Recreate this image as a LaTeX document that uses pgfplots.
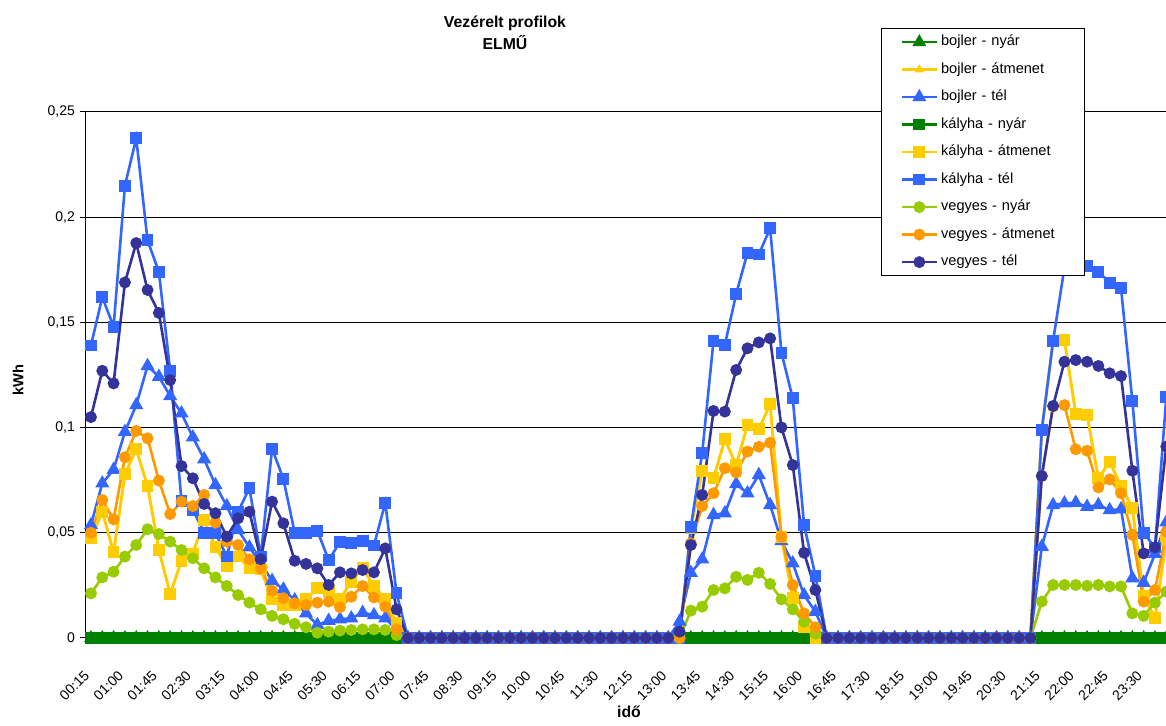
\documentclass[border=0pt]{standalone}
\usepackage{pgfplots}
\pgfplotsset{compat=1.18}
\usepackage{pgfplotstable}
\usepackage{fontspec}
\setmainfont{Liberation Sans}
\definecolor{cgreen}{HTML}{008000}
\definecolor{cyellow}{HTML}{FFCC00}
\definecolor{cblue}{HTML}{3366FF}
\definecolor{clime}{HTML}{99CC00}
\definecolor{corange}{HTML}{FF9900}
\definecolor{cnavy}{HTML}{333399}

% x: 0 = 00:15, step 15 min; n = nyar (zero); bt = bojler tel; ka = atmenet (kalyha/bojler); kt = kalyha tel; vn, va, vt = vegyes
\pgfplotstableread{
x n bt ka kt vn va vt
0 0 0.0537 0.0474 0.139 0.0212 0.050 0.105
1 0 0.0735 0.060 0.162 0.0288 0.0656 0.127
2 0 0.080 0.0407 0.148 0.0315 0.0564 0.121
3 0 0.098 0.0778 0.215 0.0387 0.0859 0.169
4 0 0.1107 0.0897 0.2375 0.0442 0.0984 0.1877
5 0 0.1293 0.0722 0.189 0.0517 0.0949 0.1654
6 0 0.1242 0.0418 0.174 0.0494 0.0748 0.1545
7 0 0.115 0.0209 0.127 0.0458 0.0589 0.1226
8 0 0.1068 0.0367 0.065 0.0418 0.0648 0.0817
9 0 0.0954 0.0402 0.061 0.0379 0.0627 0.0759
10 0 0.085 0.056 0.050 0.0331 0.068 0.0637
11 0 0.0727 0.0431 0.050 0.0288 0.0548 0.0593
12 0 0.0627 0.0342 0.0387 0.0247 0.0458 0.0482
13 0 0.0513 0.0387 0.060 0.0204 0.0442 0.0569
14 0 0.0431 0.0331 0.0713 0.0168 0.0374 0.060
15 0 0.0355 0.0326 0.0387 0.0136 0.0331 0.0375
16 0 0.0272 0.0184 0.090 0.0105 0.0225 0.0648
17 0 0.0231 0.0157 0.0756 0.0089 0.0189 0.0545
18 0 0.018 0.0157 0.050 0.0067 0.0165 0.0367
19 0 0.0117 0.0184 0.050 0.0051 0.0157 0.0352
20 0 0.0062 0.0236 0.051 0.0025 0.0168 0.0331
21 0 0.0082 0.0223 0.037 0.0030 0.0173 0.0252
22 0 0.0089 0.0184 0.0456 0.0035 0.0146 0.0312
23 0 0.0094 0.0268 0.045 0.0038 0.0196 0.0307
24 0 0.012 0.0331 0.046 0.0041 0.0247 0.0323
25 0 0.0109 0.0247 0.044 0.0041 0.0193 0.0312
26 0 0.0094 0.0184 0.0643 0.0038 0.0149 0.0426
27 0 0.0038 0.007 0.0212 0.0014 0.0041 0.0136
28 0 0 0 0 0 0 0
29 0 0 0 0 0 0 0
30 0 0 0 0 0 0 0
31 0 0 0 0 0 0 0
32 0 0 0 0 0 0 0
33 0 0 0 0 0 0 0
34 0 0 0 0 0 0 0
35 0 0 0 0 0 0 0
36 0 0 0 0 0 0 0
37 0 0 0 0 0 0 0
38 0 0 0 0 0 0 0
39 0 0 0 0 0 0 0
40 0 0 0 0 0 0 0
41 0 0 0 0 0 0 0
42 0 0 0 0 0 0 0
43 0 0 0 0 0 0 0
44 0 0 0 0 0 0 0
45 0 0 0 0 0 0 0
46 0 0 0 0 0 0 0
47 0 0 0 0 0 0 0
48 0 0 0 0 0 0 0
49 0 0 0 0 0 0 0
50 0 0 0 0 0 0 0
51 0 0 0 0 0 0 0
52 0 0.0078 0 0 0 0 0.003
53 0 0.031 0.052 0.0529 0.013 0.045 0.0442
54 0 0.0374 0.0795 0.088 0.0149 0.0627 0.068
55 0 0.0585 0.0759 0.1413 0.0228 0.0688 0.1079
56 0 0.0593 0.0944 0.1393 0.0236 0.0807 0.1076
57 0 0.0732 0.0822 0.1635 0.0291 0.0786 0.1274
58 0 0.0688 0.1012 0.1831 0.0276 0.0886 0.1377
59 0 0.0775 0.0992 0.1823 0.031 0.0909 0.1405
60 0 0.0632 0.1112 0.1947 0.0257 0.0928 0.1424
61 0 0.0461 0.0481 0.1356 0.0184 0.0481 0.1001
62 0 0.0355 0.0189 0.1139 0.0136 0.0252 0.0822
63 0 0.0204 0.0054 0.0537 0.0077 0.0117 0.0405
64 0 0.0125 0 0.0296 0.002 0.0051 0.0228
65 0 0 0 0 0 0 0
66 0 0 0 0 0 0 0
67 0 0 0 0 0 0 0
68 0 0 0 0 0 0 0
69 0 0 0 0 0 0 0
70 0 0 0 0 0 0 0
71 0 0 0 0 0 0 0
72 0 0 0 0 0 0 0
73 0 0 0 0 0 0 0
74 0 0 0 0 0 0 0
75 0 0 0 0 0 0 0
76 0 0 0 0 0 0 0
77 0 0 0 0 0 0 0
78 0 0 0 0 0 0 0
79 0 0 0 0 0 0 0
80 0 0 0 0 0 0 0
81 0 0 0 0 0 0 0
82 0 0 0 0 0 0 0
83 0 0 0 0 0 0 0
84 0 0.0434 0.0989 0.0989 0.0173 0.077 0.077
85 0 0.0632 0.141 0.1413 0.0252 0.110 0.1103
86 0 0.064 0.1416 0.176 0.0252 0.1107 0.1313
87 0 0.0643 0.1065 0.1768 0.0252 0.0897 0.1321
88 0 0.0624 0.106 0.1768 0.0248 0.089 0.1313
89 0 0.0632 0.0759 0.1741 0.0252 0.0716 0.1293
90 0 0.0608 0.0838 0.1689 0.0245 0.0754 0.1258
91 0 0.0612 0.0722 0.1662 0.0245 0.0688 0.1245
92 0 0.0284 0.0616 0.1128 0.0117 0.049 0.0795
93 0 0.0263 0.020 0.050 0.0105 0.0173 0.0402
94 0 0.040 0.0094 0.043 0.0168 0.0228 0.0431
95 0 0.055 0.0466 0.1145 0.022 0.0505 0.091
}\data

\begin{document}
\begin{tikzpicture}
\begin{axis}[
  at={(0,0)}, anchor=south west,
  scale only axis, width=540.5pt, height=263pt,
  xmin=-0.5, xmax=95, ymin=0, ymax=0.25,
  clip=false,
  axis x line*=bottom, axis y line*=left,
  axis line style={black, line width=0.6pt},
  ytick={0,0.05,0.1,0.15,0.2,0.25},
  yticklabels={0,{0,05},{0,1},{0,15},{0,2},{0,25}},
  ymajorgrids, grid style={black, line width=0.5pt},
  tick align=outside, major tick length=2.5pt,
  ytick style={black, line width=0.5pt},
  xtick style={draw=none},
  xtick={0,3,...,93},
  xticklabels={00:15,01:00,01:45,02:30,03:15,04:00,04:45,05:30,06:15,07:00,07:45,08:30,09:15,10:00,10:45,11:30,12:15,13:00,13:45,14:30,15:15,16:00,16:45,17:30,18:15,19:00,19:45,20:30,21:15,22:00,22:45,23:30},
  xticklabel style={xshift=-2pt, font=\fontsize{7}{8.4}\selectfont, rotate=45, anchor=east, inner sep=0pt},
  xticklabel shift=15pt,
  yticklabel style={font=\fontsize{7}{8.4}\selectfont, anchor=east, inner sep=0pt},
  yticklabel shift=2.5pt,
  every axis plot/.append style={line width=1.3pt},
  legend image code/.code={\draw[mark repeat=2,mark phase=2,#1] plot coordinates {(0pt,0pt) (8.75pt,0pt) (17.5pt,0pt)};},
  legend cell align=left,
  legend style={at={(axis description cs:0.7361,1.1597)}, anchor=north west,
    draw=black, line width=0.5pt, fill=white,
    font=\fontsize{7.3}{8.8}\selectfont,
    inner xsep=9.5pt, inner ysep=3.3pt, row sep=6.75pt,
    nodes={inner sep=0pt, text height=5.4pt, text depth=1.6pt},
    /tikz/every odd column/.append style={column sep=1.5pt},
    /tikz/every even column/.append style={text width=62pt}},
]
\addplot[cgreen, mark=triangle*, mark size=2.7pt, mark options={solid}] table[x=x, y=n] {\data};
\addlegendentry{bojler - nyár}
\addplot[cyellow, mark=triangle*, mark size=1.4pt, mark options={solid}] table[x=x, y=ka] {\data};
\addlegendentry{bojler - átmenet}
\addplot[cblue, mark=triangle*, mark size=2.8pt, mark options={solid}] table[x=x, y=bt] {\data};
\addlegendentry{bojler - tél}
\addplot[cgreen, mark=square*, mark size=2.3pt, mark options={solid}] table[x=x, y=n] {\data};
\addlegendentry{kályha - nyár}
\addplot[cyellow, mark=square*, mark size=2.3pt, mark options={solid}] table[x=x, y=ka] {\data};
\addlegendentry{kályha - átmenet}
\addplot[cblue, mark=square*, mark size=2.3pt, mark options={solid}] table[x=x, y=kt] {\data};
\addlegendentry{kályha - tél}
\addplot[clime, mark=*, mark size=2.3pt, mark options={solid}] table[x=x, y=vn] {\data};
\addlegendentry{vegyes - nyár}
\addplot[corange, mark=*, mark size=2.3pt, mark options={solid}] table[x=x, y=va] {\data};
\addlegendentry{vegyes - átmenet}
\addplot[cnavy, mark=*, mark size=2.3pt, mark options={solid}] table[x=x, y=vt] {\data};
\addlegendentry{vegyes - tél}
\end{axis}
\node[align=center, font=\bfseries\fontsize{7.9}{11}\selectfont] at (209.85pt,302.5pt) {Vezérelt profilok\\ELMŰ};
\node[rotate=90, font=\bfseries\fontsize{7.3}{8.8}\selectfont] at (-33.65pt,129pt) {kWh};
\node[font=\bfseries\fontsize{7.9}{9.5}\selectfont] at (271.85pt,-37pt) {idő};
\pgfresetboundingbox
\useasboundingbox (-42.65pt,-44pt) rectangle (540.35pt,319pt);
\end{tikzpicture}
\end{document}
